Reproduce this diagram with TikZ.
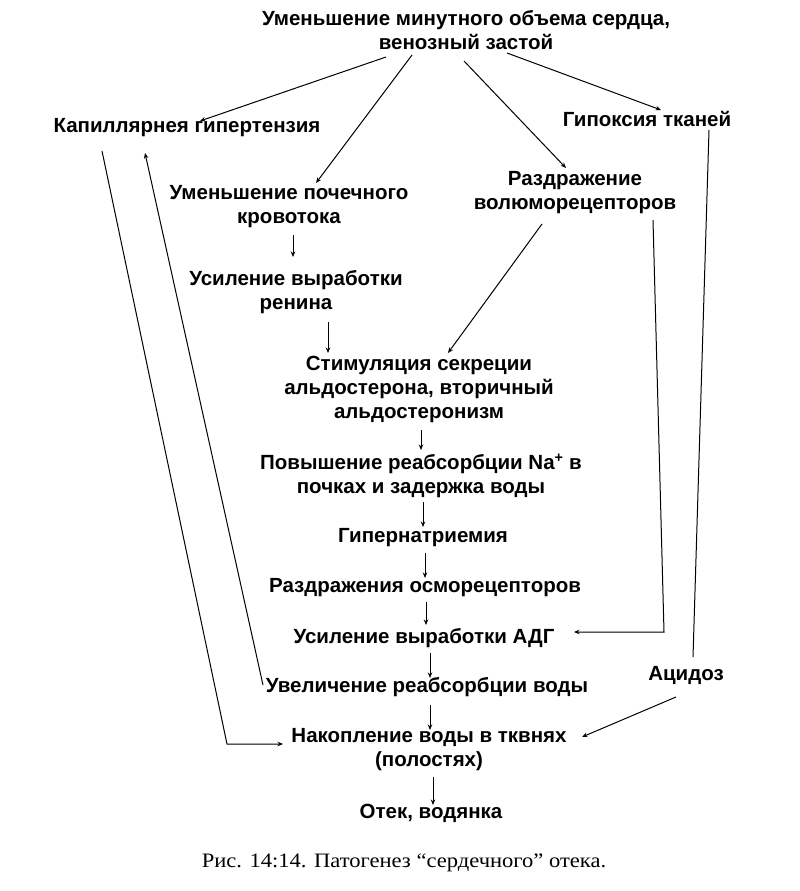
\documentclass[tikz,border=0pt]{standalone}
\usepackage{fontspec}
\setmainfont{Liberation Sans}
\newfontfamily\capfont[FakeStretch=1.1]{Liberation Serif}
\usetikzlibrary{arrows.meta}
\begin{document}
\begin{tikzpicture}[x=1pt,y=-1pt,
  lbl/.style={inner sep=0pt,align=center,font=\fontsize{20.5}{24}\selectfont\bfseries},
  con/.style={line width=1pt},
  arr/.style={line width=1pt,-{Stealth[length=5.5pt,width=4.5pt]}}]
\fill[white] (0,0) rectangle (800,891);
\useasboundingbox (0,0) rectangle (800,891);
\node[lbl] (top) at (466,30) {Уменьшение минутного объема сердца,\\венозный застой};
\node[lbl] (kap) at (187,128) {Капиллярнея гипертензия};
\node[lbl] (gip) at (647,119) {Гипоксия тканей};
\node[lbl] (ump) at (289,207) {Уменьшение почечного\\кровотока};
\node[lbl] (razd) at (575,193) {Раздражение\\волюморецепторов};
\node[lbl] (usr) at (296,292) {Усиление выработки\\ренина};
\node[lbl] (stim) at (419,389) {Стимуляция секреции\\альдостерона, вторичный\\альдостеронизм};
\node[lbl] (pov) at (421,476) {Повышение реабсорбции Na\textsuperscript{+} в\\почках и задержка воды};
\node[lbl] (gipn) at (423,538) {Гипернатриемия};
\node[lbl] (osm) at (425,588) {Раздражения осморецепторов};
\node[lbl] (adg) at (424,638) {Усиление выработки АДГ};
\node[lbl] (uvel) at (427,687) {Увеличение реабсорбции воды};
\node[lbl] (acid) at (686,675) {Ацидоз};
\node[lbl] (nak) at (429,750) {Накопление воды в тквнях\\(полостях)};
\node[lbl] (otek) at (431,813) {Отек, водянка};
\node[inner sep=0pt,font=\capfont\fontsize{20.5}{24}\selectfont] (cap) at (404,863) {Рис. 14:14. Патогенез “сердечного” отека.};
% connectors
\draw[arr] ([shift={(-80,27)}]top.center) -- ([shift={(13,-7)}]kap.center);
\draw[arr] ([shift={(-54,25)}]top.center) -- ([shift={(27,-24)}]ump.center);
\draw[arr] ([shift={(-2,31)}]top.center) -- ([shift={(-9,-25)}]razd.center);
\draw[arr] ([shift={(41,23)}]top.center) -- ([shift={(14,-9)}]gip.center);
\draw[arr] ([shift={(4,28)}]ump.center) -- ([shift={(-3,-35)}]usr.center);
\draw[arr] ([shift={(32,30)}]usr.center) -- ([shift={(-91,-36)}]stim.center);
\draw[arr] ([shift={(-33,31)}]razd.center) -- ([shift={(29,-36)}]stim.center);
\draw[arr] ([shift={(2,41)}]stim.center) -- ([shift={(0,-26)}]pov.center);
\draw[arr] ([shift={(2,26)}]pov.center) -- ([shift={(0,-11)}]gipn.center);
\draw[arr] ([shift={(2,15)}]gipn.center) -- ([shift={(0,-10)}]osm.center);
\draw[arr] ([shift={(1,14)}]osm.center) -- ([shift={(2,-13)}]adg.center);
\draw[arr] ([shift={(6,15)}]adg.center) -- ([shift={(3,-9)}]uvel.center);
\draw[arr] ([shift={(3,18)}]uvel.center) -- ([shift={(1,-20)}]nak.center);
\draw[arr] ([shift={(4,27)}]nak.center) -- ([shift={(2,-8)}]otek.center);
\draw[arr] ([shift={(-85,23)}]kap.center) -- ([shift={(-202,-6)}]nak.center) -- ([shift={(-146,-6)}]nak.center);
\draw[arr] ([shift={(-164,-2)}]uvel.center) -- ([shift={(-42,25)}]kap.center);
\draw[con] ([shift={(62,11)}]gip.center) -- ([shift={(7,-18)}]acid.center);
\draw[arr] ([shift={(78,27)}]razd.center) -- ([shift={(240,-6)}]adg.center) -- ([shift={(150,-6)}]adg.center);
\draw[arr] ([shift={(-10,22)}]acid.center) -- ([shift={(153,-13)}]nak.center);
\end{tikzpicture}
\end{document}
